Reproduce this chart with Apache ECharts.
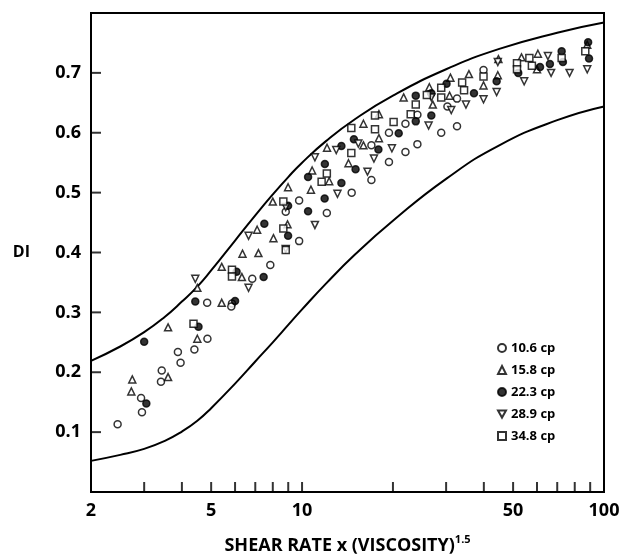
<!DOCTYPE html>
<html>
<head>
<meta charset="utf-8">
<script src="https://cdn.jsdelivr.net/npm/echarts@6/dist/echarts.min.js"></script>
<style>
    html, body { margin: 0; padding: 0; background: #fff; }
    #chart { width: 622px; height: 554px; }
</style>
</head>
<body>
<div id="chart"></div>
<script>
// data: [shear rate x viscosity^1.5, DI]
let cp106 = [[2.45,0.113],[2.95,0.133],[2.93,0.157],[3.41,0.184],[3.43,0.203],[3.88,0.234],[3.96,0.216],
    [4.40,0.238],[4.86,0.256],[4.85,0.316],[5.86,0.315],[5.83,0.31],[6.84,0.356],[7.85,0.379],[8.83,0.468],
    [9.78,0.487],[9.78,0.419],[12.08,0.466],[14.6,0.5],[16.97,0.521],[16.97,0.579],[19.4,0.551],[19.4,0.6],
    [22.0,0.568],[24.1,0.581],[22.0,0.615],[28.9,0.6],[32.6,0.611],[32.6,0.657],[24.1,0.63],[30.3,0.644],[39.9,0.705]];
let cp158 = [[2.74,0.188],[2.72,0.168],[3.6,0.275],[3.6,0.192],[4.5,0.256],[4.5,0.341],[5.42,0.316],[5.42,0.376],
    [6.32,0.359],[6.35,0.398],[7.17,0.399],[7.1,0.438],[8.04,0.424],[8.0,0.485],[8.99,0.509],[8.95,0.447],
    [10.7,0.505],[10.8,0.537],[12.1,0.575],[12.3,0.519],[14.25,0.549],[15.97,0.615],[15.97,0.579],[17.97,0.591],
    [17.97,0.631],[21.7,0.659],[26.4,0.676],[27.1,0.647],[31,0.692],[30.8,0.662],[35.7,0.698],[39.9,0.679],
    [44.7,0.723],[44.5,0.696],[53.3,0.726],[60.4,0.732],[60,0.706],[88,0.747]];
let cp223 = [[3.0,0.251],[3.05,0.148],[4.43,0.318],[4.54,0.276],[6.0,0.319],[6.07,0.368],[7.46,0.359],[7.5,0.448],
    [8.99,0.428],[8.99,0.478],[10.47,0.469],[10.47,0.526],[11.88,0.49],[11.9,0.548],[13.5,0.516],[13.5,0.578],
    [15.04,0.539],[14.85,0.589],[17.9,0.572],[20.9,0.599],[23.8,0.619],[23.8,0.662],[26.8,0.629],[26.8,0.666],
    [30.1,0.682],[37.1,0.666],[44.1,0.686],[52,0.7],[61.4,0.71],[66.2,0.715],[72.4,0.736],[73.1,0.718],
    [88.6,0.751],[89.2,0.724]];
let cp289 = [[4.43,0.356],[6.65,0.428],[6.65,0.341],[8.83,0.476],[8.83,0.406],[11.03,0.446],[11.03,0.559],
    [13.1,0.498],[12.98,0.571],[15.36,0.582],[16.47,0.535],[17.3,0.557],[19.84,0.574],[26.25,0.612],[26.8,0.659],
    [31.2,0.638],[34.9,0.647],[39.9,0.656],[44.1,0.668],[44.5,0.718],[54.4,0.686],[65.2,0.728],[66.8,0.7],
    [76.9,0.7],[88,0.706]];
let cp348 = [[4.37,0.281],[5.86,0.371],[5.86,0.36],[8.67,0.485],[8.67,0.44],[8.83,0.404],[11.61,0.518],[12.08,0.532],
    [14.56,0.608],[14.56,0.566],[17.44,0.629],[17.44,0.606],[20.1,0.618],[22.9,0.631],[23.8,0.647],[25.9,0.663],
    [28.9,0.675],[28.9,0.659],[33.9,0.684],[34.4,0.671],[39.9,0.694],[51.5,0.716],[51.5,0.706],[56.6,0.725],
    [57.7,0.712],[72.4,0.725],[86.7,0.736]];

// the two limit curves
let upper_curve = [[2,0.219],[2.5,0.243],[3,0.267],[3.5,0.292],[4,0.318],[4.5,0.343],[5,0.370],[6,0.420],
    [7,0.462],[8,0.497],[9,0.526],[10,0.550],[12,0.586],[15,0.623],[20,0.662],[30,0.706],[45,0.740],
    [70,0.767],[100,0.784]];
let lower_curve = [[2,0.052],[2.5,0.062],[3,0.072],[3.5,0.085],[4,0.101],[4.5,0.119],[5,0.140],[6,0.181],
    [7,0.218],[8,0.250],[9,0.279],[10,0.305],[12,0.348],[15,0.397],[20,0.453],[30,0.523],[45,0.579],
    [70,0.621],[100,0.644]];

let series_names = ['10.6 cp', '15.8 cp', '22.3 cp', '28.9 cp', '34.8 cp'];
let x_label_values = [2, 5, 10, 50, 100];
let x_tick_values = [3, 4, 5, 6, 7, 8, 9, 10, 20, 30, 40, 50, 60, 70, 80, 90];
let y_tick_values = [0.1, 0.2, 0.3, 0.4, 0.5, 0.6, 0.7];

let font = 'Open Sans';
let down_triangle = 'path://M0,0 L10,0 L5,9 Z';

function make_scatter(name, data, symbol, filled) {
    return {
        name: name,
        type: 'scatter',
        data: data,
        symbol: symbol,
        symbolSize: 7,
        z: 3,
        itemStyle: {
            color: filled ? '#000' : '#fff',
            borderColor: '#000',
            borderWidth: 1.5
        }
    };
}

function make_curve(data) {
    return {
        type: 'line',
        data: data,
        showSymbol: false,
        smooth: true,
        z: 2,
        silent: true,
        lineStyle: { color: '#000', width: 2 }
    };
}

// inward tick marks, placed on the axes through the chart's own scales
function make_ticks(data, size, offset) {
    return {
        type: 'scatter',
        data: data,
        symbol: 'rect',
        symbolSize: size,
        symbolOffset: offset,
        silent: true,
        clip: false,
        z: 4,
        itemStyle: { color: '#000', borderWidth: 0 }
    };
}

var chartDom = document.getElementById('chart');
var myChart = echarts.init(chartDom);

var option = {
    animation: false,
    backgroundColor: '#fff',
    grid: {
        left: 91, right: 18, top: 13, bottom: 62,
        outerBoundsMode: 'none',
        show: true,
        backgroundColor: 'transparent',
        borderColor: '#000',
        borderWidth: 2
    },
    legend: {
        data: series_names,
        orient: 'vertical',
        left: 492,
        top: 335,
        itemWidth: 8,
        itemHeight: 8,
        itemGap: 6,
        textStyle: { fontFamily: font, fontWeight: 'bold', fontSize: 13, lineHeight: 16, color: '#000' }
    },
    xAxis: {
        type: 'log',
        logBase: 10,
        min: 2,
        max: 100,
        name: '{a|SHEAR RATE x (VISCOSITY)}{b|1.5}',
        nameLocation: 'middle',
        nameGap: 42,
        nameTextStyle: {
            rich: {
                a: { fontFamily: font, fontWeight: 'bold', fontSize: 18, color: '#000', lineHeight: 24 },
                b: { fontFamily: font, fontWeight: 'bold', fontSize: 11, color: '#000', verticalAlign: 'top', lineHeight: 24 }
            }
        },
        axisLine: { show: true, lineStyle: { color: '#000', width: 2 } },
        axisTick: { show: false },
        minorTick: { show: false },
        splitLine: { show: false },
        axisLabel: {
            show: true,
            customValues: x_label_values,
            margin: 10,
            fontFamily: font, fontWeight: 'bold', fontSize: 18, color: '#000'
        }
    },
    yAxis: {
        type: 'value',
        min: 0,
        max: 0.8,
        interval: 0.1,
        name: 'DI',
        nameLocation: 'middle',
        nameRotate: 0,
        nameGap: 61,
        nameTextStyle: { fontFamily: font, fontWeight: 'bold', fontSize: 16, color: '#000' },
        axisLine: { show: true, lineStyle: { color: '#000', width: 2 } },
        axisTick: { show: false },
        splitLine: { show: false },
        axisLabel: {
            show: true,
            margin: 10,
            fontFamily: font, fontWeight: 'bold', fontSize: 18, color: '#000',
            formatter: function (v) {
                if (v < 0.05 || v > 0.75) return '';
                return v.toFixed(1);
            }
        }
    },
    series: [
        make_curve(upper_curve),
        make_curve(lower_curve),
        make_scatter(series_names[0], cp106, 'circle', false),
        make_scatter(series_names[1], cp158, 'triangle', false),
        make_scatter(series_names[2], cp223, 'circle', true),
        make_scatter(series_names[3], cp289, down_triangle, false),
        make_scatter(series_names[4], cp348, 'rect', false),
        make_ticks(x_tick_values.map(v => [v, 0]), [2, 10], [0, -5]),
        make_ticks(y_tick_values.map(v => [2, v]), [10, 2], [5, 0])
    ]
};

myChart.setOption(option);
</script>
</body>
</html>
